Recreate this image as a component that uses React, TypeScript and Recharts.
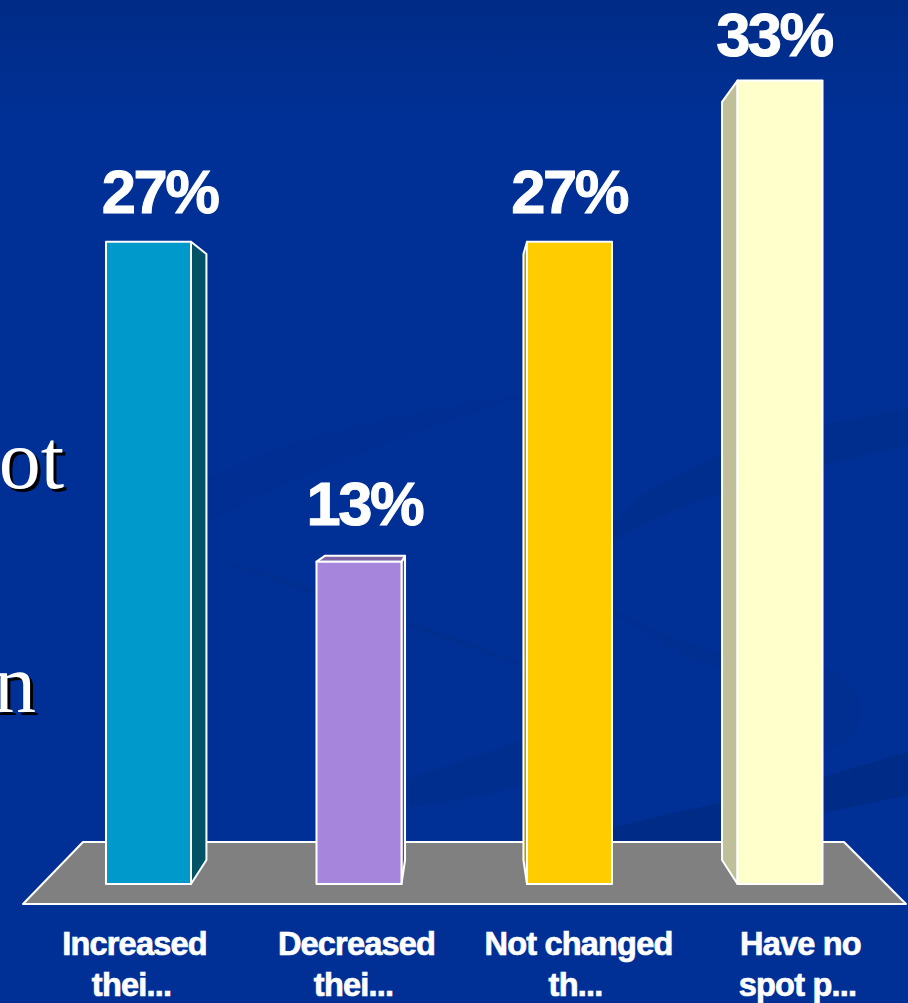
import { BarChart, Bar, XAxis, YAxis, LabelList, Customized } from 'recharts'

const categories = ['Increased\nthei...', 'Decreased\nthei...', 'Not changed\nth...', 'Have no\nspot p...']
const shares = [26.7, 13.4, 26.7, 33.4]
const frontColors = ['#0099CC', '#A686DC', '#FFCC00', '#FFFFCC']
const sideColors = ['#005266', '#5D4B7C', '#BF9900', '#BFBF99']
const topColors = ['#0080AA', '#7F65A8', '#D9AD00', '#E6E6B8']

const chartData = categories.map((category, i) => ({ category, share: shares[i] }))

const WIDTH = 908
const HEIGHT = 1003
// the 3D look: every back corner is pulled towards this point
const VANISH_X = 464
const VANISH_Y = 459
const DEPTH = 0.0565

const backX = (x: number) => x + (VANISH_X - x) * DEPTH
const backY = (y: number) => y + (VANISH_Y - y) * DEPTH
const pts = (list: number[][]) => list.map((p) => p.join(',')).join(' ')

function Bar3D(props: any) {
  const { x, y, width, height, index } = props
  const bottom = y + height
  const right = x + width
  // the side that faces the middle of the chart is the one we can see
  const edge = right < VANISH_X ? right : x
  return (
    <g stroke="#fff" strokeWidth={2} strokeLinejoin="round">
      <polygon
        fill={sideColors[index]}
        points={pts([[edge, y], [backX(edge), backY(y)], [backX(edge), backY(bottom)], [edge, bottom]])}
      />
      {y > VANISH_Y && (
        <polygon
          fill={topColors[index]}
          points={pts([[x, y], [backX(x), backY(y)], [backX(right), backY(y)], [right, y]])}
        />
      )}
      <rect x={x} y={y} width={width} height={height} fill={frontColors[index]} />
    </g>
  )
}

function Floor() {
  return (
    <polygon
      points="23,904 906,904 844,842 83,842"
      fill="#808080"
      stroke="#fff"
      strokeWidth={2}
      strokeLinejoin="round"
    />
  )
}

function ValueLabel(props: any) {
  const { x, y, width, value } = props
  const centre = x + width / 2
  return (
    <text
      x={466.5 + (centre - VANISH_X) * 0.973}
      y={y - 28.5 - (y - 242) * 0.025}
      textAnchor="middle"
      fill="#fff"
      stroke="#fff"
      strokeWidth={1}
      fontFamily="'Liberation Sans', Arial, sans-serif"
      fontWeight={700}
      fontSize={61.5}
      letterSpacing={-2.5}
    >
      {Math.round(value)}%
    </text>
  )
}

function CategoryTick(props: any) {
  const { x, payload } = props
  const [first, second] = payload.value.split('\n')
  const labelX = 467.5 + (x - VANISH_X) * 1.0546
  return (
    <text
      textAnchor="middle"
      fill="#fff"
      stroke="#fff"
      strokeWidth={0.7}
      fontFamily="'Liberation Sans', Arial, sans-serif"
      fontWeight={700}
      fontSize={32.5}
      letterSpacing={-0.8}
    >
      <tspan x={labelX} y={955}>{first}</tspan>
      <tspan x={labelX - 3} y={996}>{second}</tspan>
    </text>
  )
}

function Backdrop() {
  return (
    <svg width={WIDTH} height={HEIGHT} style={{ position: 'absolute', left: 0, top: 0 }}>
      <defs>
        <linearGradient id="page" x1="0" y1="0" x2="0" y2="1">
          <stop offset="0" stopColor="#002C86" />
          <stop offset="0.12" stopColor="#003096" />
          <stop offset="1" stopColor="#003096" />
        </linearGradient>
      </defs>
      <rect width={WIDTH} height={HEIGHT} fill="url(#page)" />
      {/* the faint swooshes of the slide template */}
      <g fill="#002A80">
        <path d="M208 478 C 280 440 400 410 540 392 C 450 420 300 470 208 522 Z" opacity={0.2} />
        <path d="M600 550 C 610 500 700 452 825 424 L 908 408 L 908 445 L 825 465 C 720 490 650 515 600 550 Z" opacity={0.3} />
        <path d="M530 570 C 600 600 660 640 720 652 C 770 655 800 660 823 667 C 850 680 862 695 862 712 C 862 730 845 745 823 752 C 815 720 790 700 720 670 C 650 640 590 600 530 570 Z" opacity={0.22} />
        <path d="M210 558 C 300 580 420 625 525 663 L 525 667 C 420 632 300 590 210 558 Z" opacity={0.25} />
        <path d="M330 805 C 400 780 470 760 527 738 L 527 785 C 470 800 400 815 330 805 Z" opacity={0.3} />
        <path d="M612 828 C 660 815 740 800 823 777 L 908 752 L 908 795 L 823 813 L 730 842 L 612 842 Z" opacity={0.65} />
      </g>
    </svg>
  )
}

function CutOffWord({ text, right, baseline }: { text: string; right: number; baseline: number }) {
  return (
    <div
      style={{
        position: 'absolute',
        right: WIDTH - right,
        top: baseline - 75,
        lineHeight: '94px',
        fontFamily: "'Liberation Serif', 'Times New Roman', serif",
        fontSize: 84,
        color: '#fff',
        textShadow: '3px 3px 0 #000',
        whiteSpace: 'nowrap',
      }}
    >
      {text}
    </div>
  )
}

export default function App() {
  return (
    <div style={{ position: 'fixed', left: 0, top: 0, width: WIDTH, height: HEIGHT, overflow: 'hidden' }}>
      <Backdrop />
      <CutOffWord text="ot" right={64} baseline={488} />
      <CutOffWord text="n" right={36} baseline={712} />
      <div style={{ position: 'absolute', left: 0, top: 0 }}>
        <BarChart
          width={WIDTH}
          height={HEIGHT}
          data={chartData}
          barSize={85}
          margin={{ top: 18, right: 23, bottom: 0, left: 43 }}
        >
          <Customized component={Floor} />
          <XAxis
            dataKey="category"
            height={119}
            axisLine={false}
            tickLine={false}
            interval={0}
            tick={CategoryTick}
          />
          <YAxis hide domain={[0, 36]} />
          <Bar dataKey="share" isAnimationActive={false} shape={Bar3D}>
            <LabelList dataKey="share" content={ValueLabel} />
          </Bar>
        </BarChart>
      </div>
    </div>
  )
}
